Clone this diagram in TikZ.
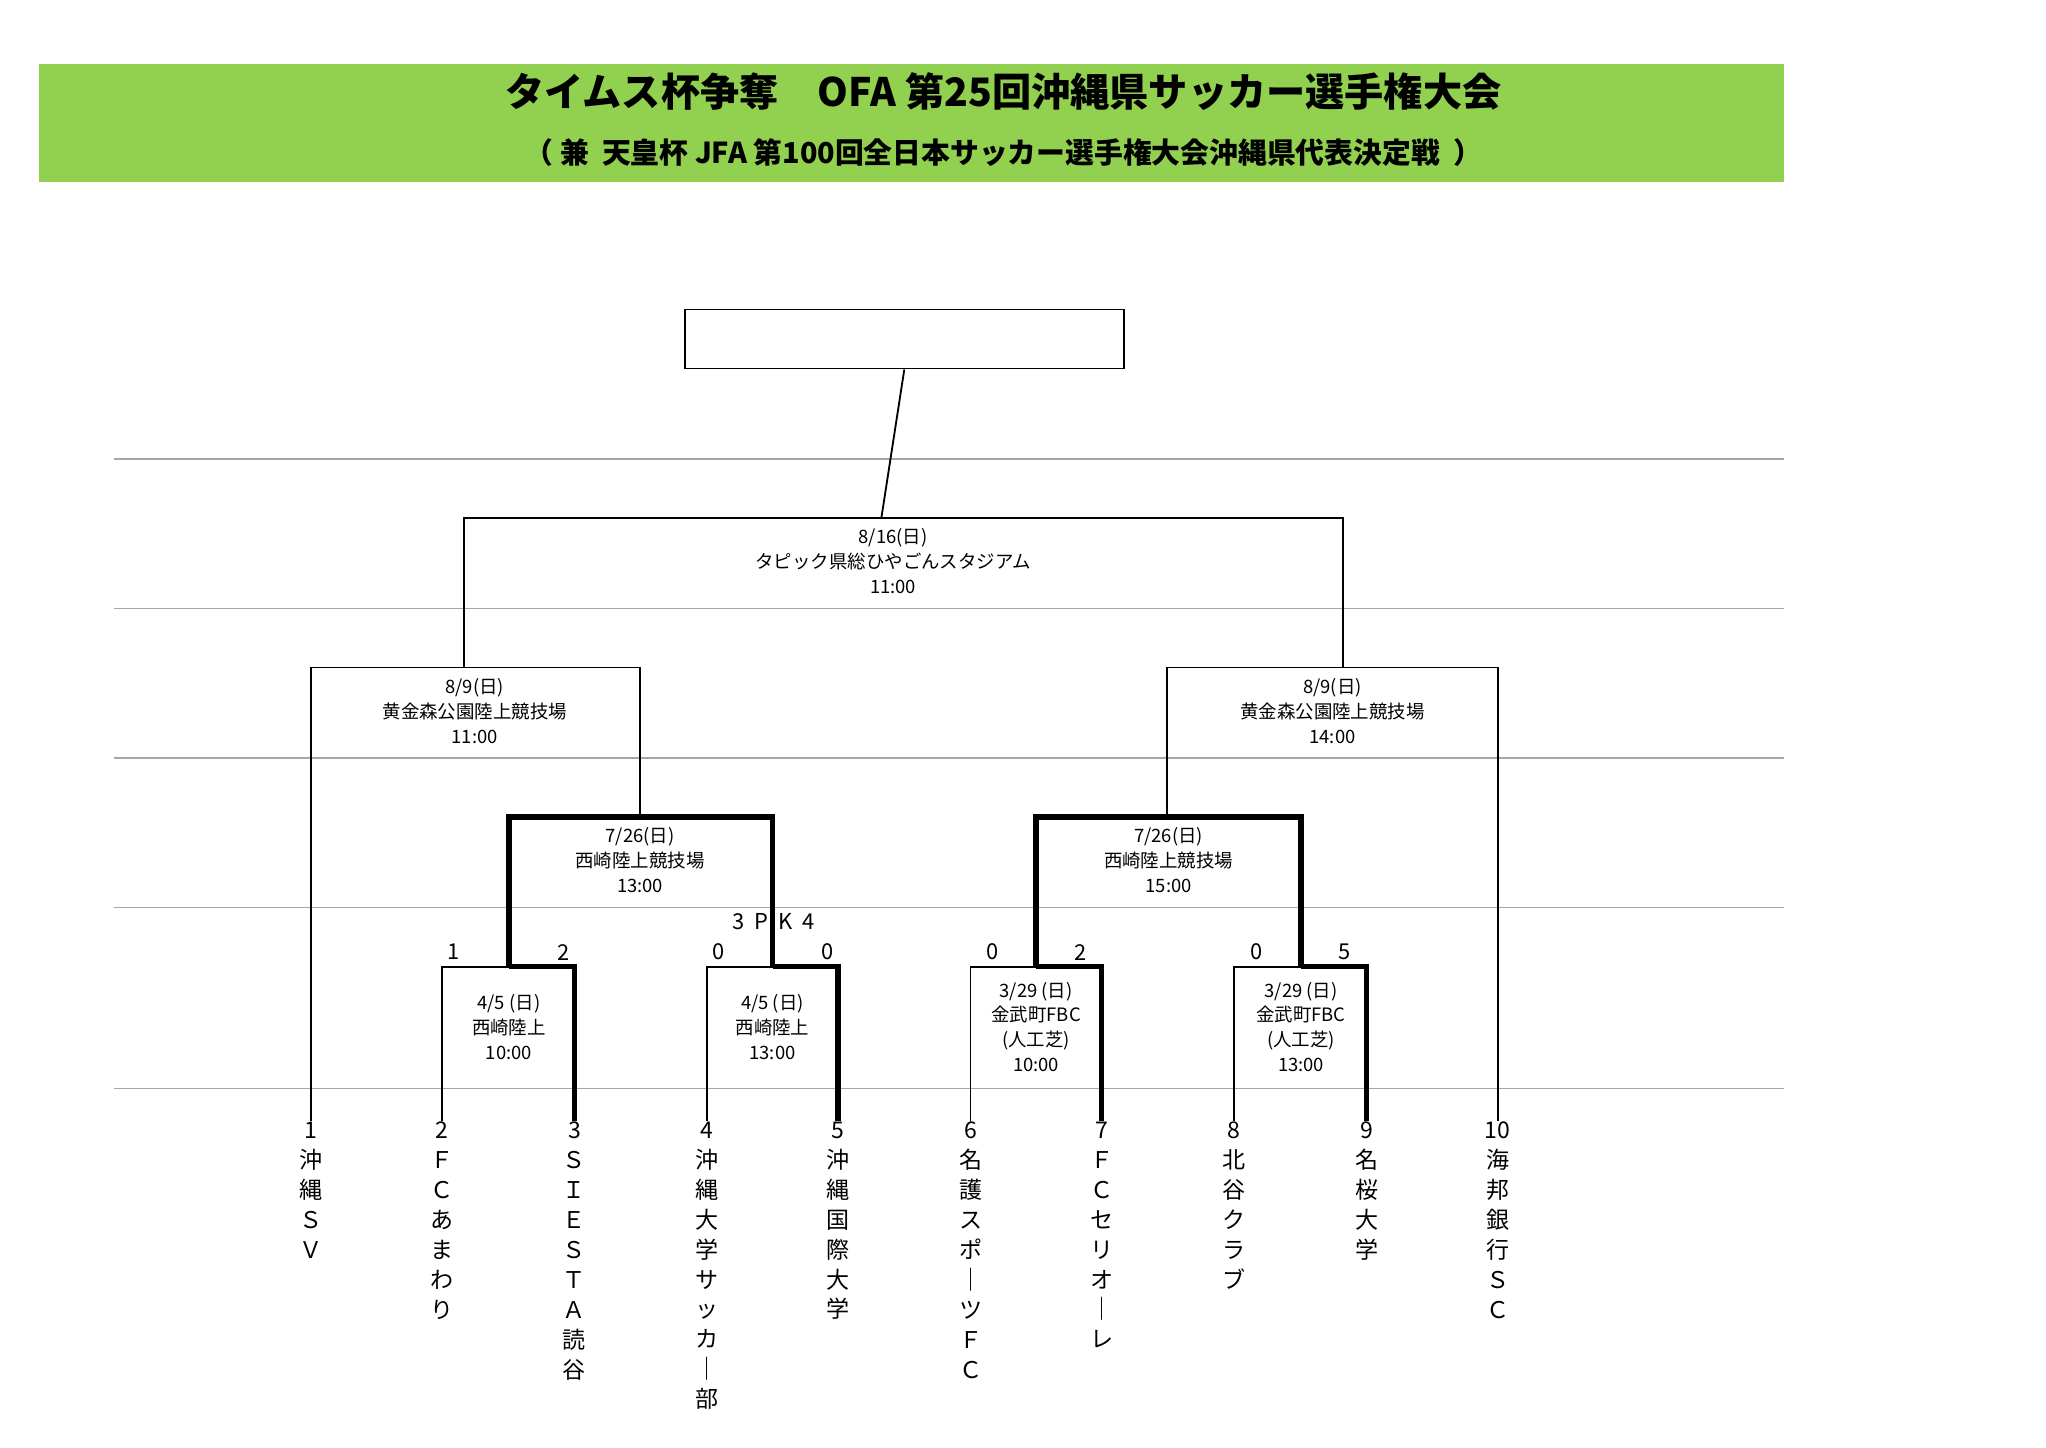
\documentclass[tikz,border=0pt]{standalone}
\usepackage{fontspec}
\setmainfont{Noto Sans CJK JP}
\definecolor{bargreen}{RGB}{146,208,80}
\begin{document}
\begin{tikzpicture}[x=0.02cm,y=-0.02cm,
    grid/.style ={gray!70, line width=0.5pt},
    thin/.style ={black, line width=0.8pt},
    win/.style ={black, line width=2.4pt},
    info/.style ={align=center, inner sep=0pt, font=\fontsize{8}{10.8}\selectfont},
    score/.style ={inner sep=0pt, font=\fontsize{9.5}{11}\selectfont},
    team/.style ={anchor=north, align=center, inner sep=0pt, font=\fontsize{10}{13}\selectfont}]
   \useasboundingbox (0,0) rectangle (1560,1104);
   \fill[bargreen] (30,49) rectangle (1360,139);
   \node[inner sep=0pt, font=\fontsize{17}{20}\bfseries] (title) at (765,70) {タイムス杯争奪\quad OFA 第25回沖縄県サッカー選手権大会};
   \node[inner sep=0pt, font=\fontsize{12.5}{15}\bfseries] (subtitle) at (765,116) {（\ 兼\ \ 天皇杯 JFA 第100回全日本サッカー選手権大会沖縄県代表決定戦\ \ ）};

   % horizontal rules
   \foreach \y in {350,464,578,692,830}
      \draw[grid] (87,\y) -- (1360,\y);

   % champion box
   \node[draw, thin, minimum width=335*0.02cm, minimum height=45*0.02cm] (champ) at (689.5,258.5) {};

   % teams
   \node[team] (t1)  at (237,855) {1\\沖\\縄\\Ｓ\\Ｖ};
   \node[team] (t2)  at (337,855) {2\\Ｆ\\Ｃ\\あ\\ま\\わ\\り};
   \node[team] (t3)  at (438,855) {3\\Ｓ\\Ｉ\\Ｅ\\Ｓ\\Ｔ\\Ａ\\読\\谷};
   \node[team] (t4)  at (539,855) {4\\沖\\縄\\大\\学\\サ\\ッ\\カ\\｜\\部};
   \node[team] (t5)  at (639,855) {5\\沖\\縄\\国\\際\\大\\学};
   \node[team] (t6)  at (740,855) {6\\名\\護\\ス\\ポ\\｜\\ツ\\Ｆ\\Ｃ};
   \node[team] (t7)  at (840,855) {7\\Ｆ\\Ｃ\\セ\\リ\\オ\\｜\\レ};
   \node[team] (t8)  at (941,855) {8\\北\\谷\\ク\\ラ\\ブ};
   \node[team] (t9)  at (1042,855) {9\\名\\桜\\大\\学};
   \node[team] (t10) at (1142,855) {10\\海\\邦\\銀\\行\\Ｓ\\Ｃ};

   % match info
   \node[info] (final) at (681,428) {8/16(日)\\タピック県総ひやごんスタジアム\\11:00};
   \node[info] (sfA) at (362,542) {8/9(日)\\黄金森公園陸上競技場\\11:00};
   \node[info] (sfB) at (1016,542) {8/9(日)\\黄金森公園陸上競技場\\14:00};
   \node[info] (qfA) at (488,656) {7/26(日)\\西崎陸上競技場\\13:00};
   \node[info] (qfB) at (891,656) {7/26(日)\\西崎陸上競技場\\15:00};
   \node[info] (rA) at (388,783) {4/5 (日)\\西崎陸上\\10:00};
   \node[info] (rB) at (589,783) {4/5 (日)\\西崎陸上\\13:00};
   \node[info] (rC) at (790,783) {3/29 (日)\\金武町FBC\\(人工芝)\\10:00};
   \node[info] (rD) at (992,783) {3/29 (日)\\金武町FBC\\(人工芝)\\13:00};

   % first round
   \draw[thin] (t2.north) |- (388,737);
   \draw[thin] (t4.north) |- (589,737);
   \draw[thin] (t6.north) |- (790,737);
   \draw[thin] (t8.north) |- (992,737);
   \draw[win] (t3.north) |- (388,737);
   \draw[win] (t5.north) |- (589,737);
   \draw[win] (t7.north) |- (790,737);
   \draw[win] (t9.north) |- (992,737);

   % quarter finals
   \draw[win] (388,737) |- (589,623) -- (589,737);
   \draw[win] (790,737) |- (992,623) -- (992,737);

   % semi finals and final
   \draw[thin] (t1.north) |- (488,509) -- (488,623);
   \draw[thin] (t10.north) |- (890,509) -- (890,623);
   \draw[thin] (354,509) |- (1024,395) -- (1024,509);
   \draw[thin] (champ.south) -- (672,395);

   % scores
   \node[score] (s1) at (346,726) {1};
   \node[score] (s2) at (430,726) {2};
   \node[score] (s3) at (548,726) {0};
   \node[score] (s4) at (631,726) {0};
   \node[score] (s5) at (757,726) {0};
   \node[score] (s6) at (824,726) {2};
   \node[score] (s7) at (958,726) {0};
   \node[score] (s8) at (1025,726) {5};
   \node[score] (pk) at (590,703) {3\ \ P\ \ K\ \ 4};
\end{tikzpicture}
\end{document}
